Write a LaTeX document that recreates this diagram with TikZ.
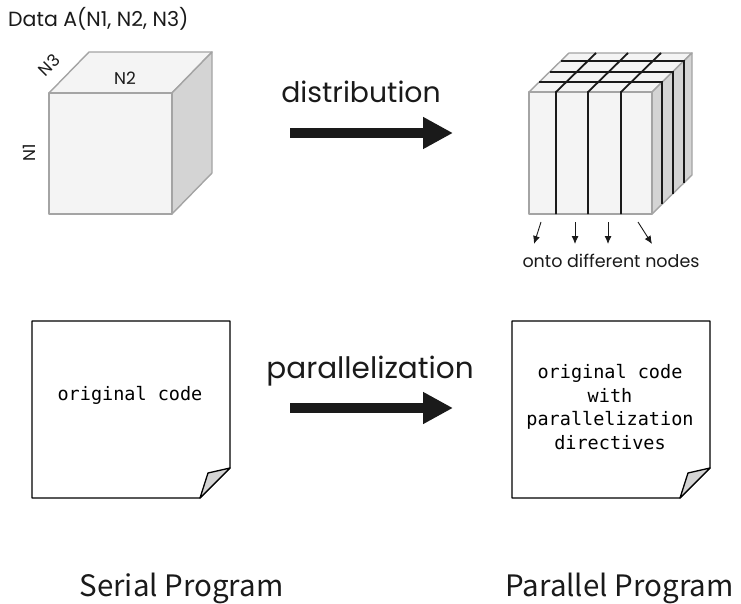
\documentclass[tikz,border=0pt]{standalone}
\usepackage{fontspec}
\setmainfont{Poppins}
\newfontfamily\codefont{DejaVu Sans Mono}
\newfontfamily\labelfont{Noto Sans CJK JP}
\usetikzlibrary{arrows.meta}

\definecolor{edgegray}{HTML}{A4A4A4}
\definecolor{facelight}{HTML}{F4F4F4}
\definecolor{facedark}{HTML}{D4D4D4}
\definecolor{inkdark}{HTML}{1A1A1A}

\tikzset{
  cubeedge/.style={draw=edgegray, line width=1.4pt, line join=round},
  gridline/.style={draw=inkdark, line width=1.8pt},
  bigarrow/.style={draw=inkdark, line width=10pt,
    -{Triangle[length=30pt,width=30pt]}},
  smallarrow/.style={draw=inkdark, line width=0.9pt,
    -{Latex[length=8pt,width=7pt]}},
  paper/.style={draw=black, fill=white, line width=1.3pt, line join=round},
  fold/.style={draw=black, fill=facedark, line width=1.3pt, line join=round},
  gothic/.style={font=\fontsize{#1}{#1}\selectfont, text=inkdark, inner sep=0pt},
  codetext/.style={font=\codefont\fontsize{18.5}{23.5}\selectfont, align=center, inner sep=0pt},
  caption/.style={font=\labelfont\fontsize{29.5}{29.5}\selectfont, text=inkdark, inner sep=0pt}
}

\begin{document}
\begin{tikzpicture}[x=1pt, y=-1pt]
\useasboundingbox (0,0) rectangle (741,604);

% ---------- undivided data cube ----------
\coordinate (c1a) at (49,214);
\coordinate (c1b) at (49,93);
\coordinate (c1c) at (172,93);
\coordinate (c1d) at (172,214);
\path[cubeedge, fill=facelight] (c1b) -- ++(40,-41) -- ++(123,0) -- (c1c) -- cycle;
\path[cubeedge, fill=facedark] (c1c) -- ++(40,-41) -- ++(0,121) -- (c1d) -- cycle;
\path[cubeedge, fill=facelight] (c1a) rectangle (c1c);

\node[gothic=20.5, anchor=base west] (title) at (8,27) {Data A(N1, N2, N3)};
\node[gothic=17] (n2) at (125,78) {N2};
\node[gothic=17, rotate=45] (n3) at (49,65) {N3};
\node[gothic=17, rotate=90] (n1) at (29,153) {N1};

% ---------- distributed data cube ----------
\coordinate (c2a) at (529,214);
\coordinate (c2b) at (529,92);
\coordinate (c2c) at (652,92);
\coordinate (c2d) at (652,214);
\path[cubeedge, fill=facelight] (c2b) -- ++(40,-39) -- ++(123,0) -- (c2c) -- cycle;
\path[cubeedge, fill=facedark] (c2c) -- ++(40,-39) -- ++(0,122) -- (c2d) -- cycle;
\path[cubeedge, fill=facelight] (c2a) rectangle (c2c);

% slices along the front face, continued over the top
\foreach \x in {556,588,621}{
  \draw[gridline] (\x,214) -- (\x,92) -- ++(40,-39);
}
% slices through the depth: top face and right face
\foreach \t in {0.25,0.52,0.8}{
  \draw[gridline] ({529+40*\t},{92-39*\t}) -- ({652+40*\t},{92-39*\t})
                  -- ({652+40*\t},{214-39*\t});
}

% slices sent to separate nodes
\coordinate (s1) at (541,222); \coordinate (e1) at (534,244);
\coordinate (s2) at (575,222); \coordinate (e2) at (575,244);
\coordinate (s3) at (608,222); \coordinate (e3) at (608,244);
\coordinate (s4) at (638,222); \coordinate (e4) at (652,244);
\foreach \i in {1,2,3,4}{
  \draw[smallarrow] (s\i) -- (e\i);
}
\node[gothic=17.5, anchor=base] (onto) at (611,267) {onto different nodes};

% ---------- distribution step ----------
\node[gothic=28.3, anchor=base] (dist) at (361,103) {distribution};
\coordinate (d1) at (290,133);
\coordinate (d2) at (453,133);
\draw[bigarrow] (d1) -- (d2);

% ---------- serial program sheet ----------
\path[paper] (32,321) -- (230,321) -- (230,468) -- (200,498) -- (32,498) -- cycle;
\path[fold] (200,498) -- (208,473) -- (230,468) -- cycle;
\node[codetext] (serialcode) at (130,395) {original code};

% ---------- parallel program sheet ----------
\path[paper] (512,321) -- (710,321) -- (710,468) -- (680,498) -- (512,498) -- cycle;
\path[fold] (680,498) -- (688,473) -- (710,468) -- cycle;
\node[codetext] (parcode) at (610,407)
  {original code\\with\\parallelization\\directives};

% ---------- parallelization step ----------
\node[gothic=29.5, anchor=base] (para) at (370,378) {parallelization};
\coordinate (p1) at (290,408);
\coordinate (p2) at (453,408);
\draw[bigarrow] (p1) -- (p2);

% ---------- captions ----------
\node[caption, anchor=base] (serial) at (181.5,596) {Serial Program};
\node[caption, anchor=base] (parallel) at (619.5,596) {Parallel Program};
\end{tikzpicture}
\end{document}
